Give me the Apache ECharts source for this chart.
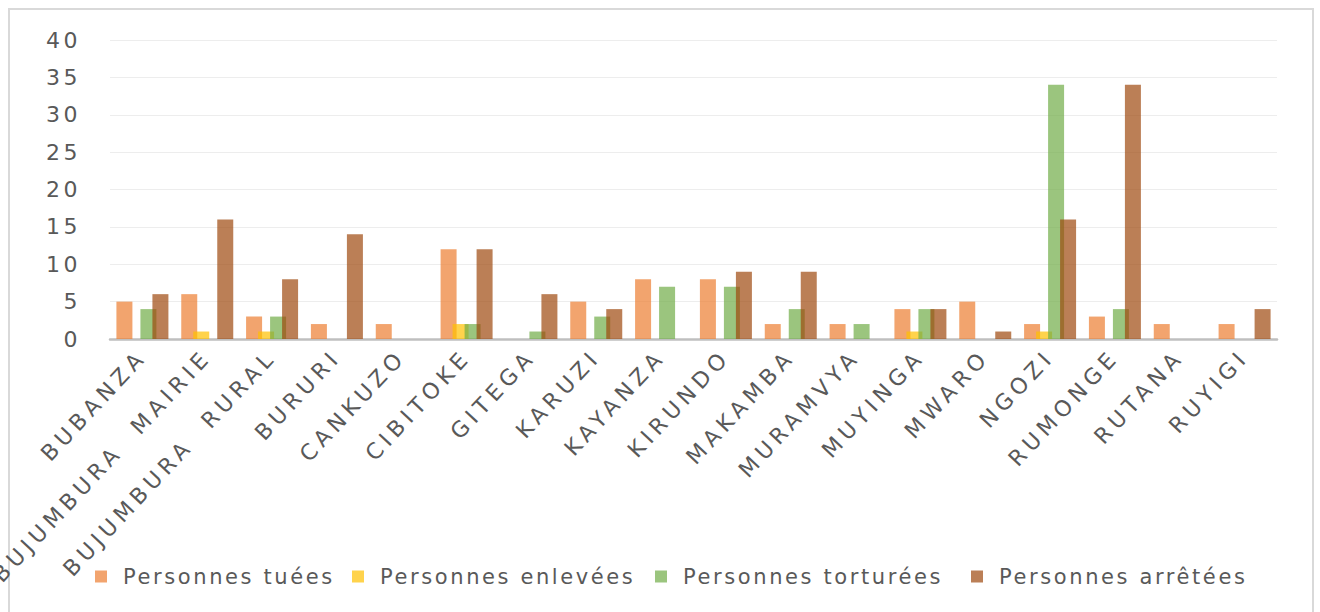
<!DOCTYPE html>
<html>
<head>
<meta charset="utf-8">
<script src="https://cdn.jsdelivr.net/npm/echarts@6/dist/echarts.min.js"></script>
<style>
  html, body { margin: 0; padding: 0; background: #ffffff; }
  #chart { width: 1320px; height: 612px; }
</style>
</head>
<body>
<div id="chart"></div>
<script>
// Provinces of Burundi
const categories = [
  'BUBANZA', 'BUJUMBURA  MAIRIE', 'BUJUMBURA  RURAL', 'BURURI', 'CANKUZO',
  'CIBITOKE', 'GITEGA', 'KARUZI', 'KAYANZA', 'KIRUNDO', 'MAKAMBA',
  'MURAMVYA', 'MUYINGA', 'MWARO', 'NGOZI', 'RUMONGE', 'RUTANA', 'RUYIGI'
];
const seriesNames = ['Personnes tuées', 'Personnes enlevées', 'Personnes torturées', 'Personnes arrêtées'];
const tuees     = [5, 6, 3, 2, 2, 12, 0, 5, 8, 8, 2, 2, 4, 5, 2, 3, 2, 2];
const enlevees  = [0, 1, 1, 0, 0, 2, 0, 0, 0, 0, 0, 0, 1, 0, 1, 0, 0, 0];
const torturees = [4, 0, 3, 0, 0, 2, 1, 3, 7, 7, 4, 2, 4, 0, 34, 4, 0, 0];
const arretees  = [6, 16, 8, 14, 0, 12, 6, 4, 0, 9, 9, 0, 4, 1, 16, 34, 0, 4];
const yTicks = [0, 5, 10, 15, 20, 25, 30, 35, 40];

const colors = ['#ED7D31', '#FFC000', '#70AD47', '#9E480E'];
const values = [tuees, enlevees, torturees, arretees];

const FONT = '"DejaVu Sans", "Open Sans", sans-serif';
const TEXT = '#595959';

// Left edge of each legend entry's colour key
const legendLefts = [90, 347, 650, 966];

const chart = echarts.init(document.getElementById('chart'), null, { renderer: 'svg' });

chart.setOption({
  animation: false,
  backgroundColor: '#ffffff',
  graphic: [{
    type: 'rect',
    shape: { x: 9, y: 9, width: 1304, height: 640 },
    style: { fill: 'none', stroke: '#D9D9D9', lineWidth: 2 },
    silent: true
  }],
  grid: { left: 110, right: 43, top: 40, bottom: 273, containLabel: false },
  legend: seriesNames.map((name, i) => ({
    data: [name],
    left: legendLefts[i],
    top: 561,
    itemWidth: 12,
    itemHeight: 12,
    icon: 'rect',
    selectedMode: false,
    textStyle: { color: TEXT, fontSize: 21, fontFamily: FONT, padding: [0, 0, 0, 11] }
  })),
  xAxis: {
    type: 'category',
    data: categories,
    axisLine: { lineStyle: { color: '#BFBFBF', width: 2.5 } },
    axisTick: { show: false },
    axisLabel: {
      interval: 0,
      rotate: 47,
      margin: 14,
      color: TEXT,
      fontSize: 22,
      fontFamily: FONT
    }
  },
  yAxis: {
    type: 'value',
    min: yTicks[0],
    max: yTicks[yTicks.length - 1],
    interval: yTicks[1] - yTicks[0],
    axisLine: { show: false },
    axisTick: { show: false },
    splitLine: { lineStyle: { color: '#EDEDED', width: 1 } },
    axisLabel: { color: TEXT, fontSize: 22, fontFamily: FONT, margin: 29 }
  },
  series: seriesNames.map((name, i) => ({
    name,
    type: 'bar',
    data: values[i],
    barWidth: 16,
    barGap: '-25%',
    itemStyle: { color: colors[i], opacity: 0.7 },
    emphasis: { disabled: true }
  }))
});

// Wide Excel-like lettering for the axis and legend texts
function spaceLetters() {
  const texts = document.querySelectorAll('#chart svg text');
  texts.forEach(t => {
    const s = t.textContent.trim();
    if (/^\d+$/.test(s)) t.style.letterSpacing = '3.5px';
    else if (seriesNames.includes(s)) t.style.letterSpacing = '2.6px';
    else t.style.letterSpacing = '5px';
    t.style.whiteSpace = 'pre';
  });
}
chart.on('finished', spaceLetters);
setTimeout(spaceLetters, 50);
</script>
</body>
</html>
